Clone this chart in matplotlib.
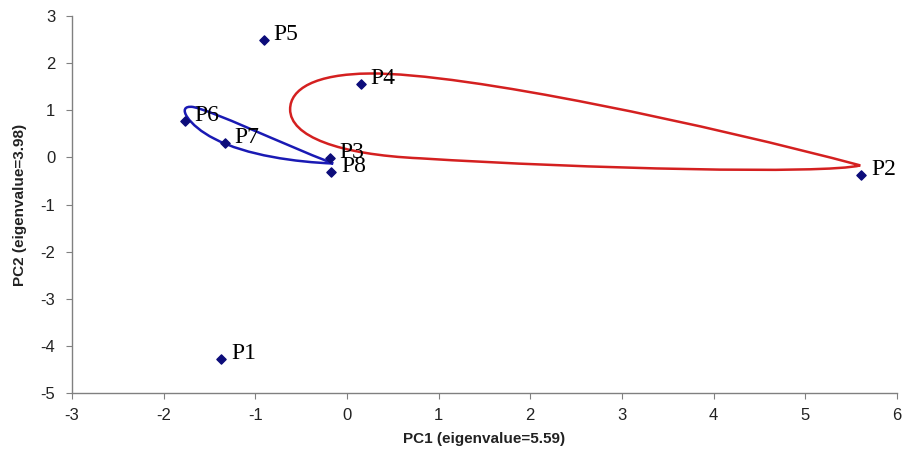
import matplotlib
matplotlib.use('Agg')
import matplotlib.pyplot as plt
from matplotlib.path import Path
from matplotlib.patches import PathPatch

plt.rcParams['axes.unicode_minus'] = False

# --- data ---
labels = ['P1', 'P2', 'P3', 'P4', 'P5', 'P6', 'P7', 'P8']
pc1 = [-1.37, 5.61, -0.19, 0.15, -0.91, -1.77, -1.33, -0.17]
pc2 = [-4.27, -0.37, -0.01, 1.56, 2.50, 0.78, 0.30, -0.31]

xticks = [-3, -2, -1, 0, 1, 2, 3, 4, 5, 6]
yticks = [-5, -4, -3, -2, -1, 0, 1, 2, 3]

# hand drawn loops (bezier vertices, data units)
red_loop = [(5.60, -0.17),
            (4.0, 0.66), (1.3, 1.80), (0.25, 1.78),
            (-0.35, 1.77), (-0.62, 1.45), (-0.62, 1.02),
            (-0.62, 0.45), (-0.1, 0.06), (0.8, -0.02),
            (2.6, -0.24), (5.2, -0.36), (5.60, -0.17)]
blue_loop = [(-0.15, -0.13),
             (-0.75, 0.32), (-1.45, 0.98), (-1.68, 1.07),
             (-1.88, 1.12), (-1.72, 0.66), (-1.45, 0.40),
             (-1.10, 0.04), (-0.55, -0.10), (-0.15, -0.13)]


def loop_patch(pts, color):
    codes = [Path.MOVETO] + [Path.CURVE4] * (len(pts) - 1)
    return PathPatch(Path(pts, codes), facecolor='none', edgecolor=color, lw=1.8, zorder=2)


fig = plt.figure(figsize=(9.04, 4.5), dpi=100)
ax = fig.add_axes([0.0796, 0.1267, 0.9126, 0.8377])

ax.add_patch(loop_patch(red_loop, '#d42020'))
ax.add_patch(loop_patch(blue_loop, '#1a1ab4'))

ax.scatter(pc1, pc2, marker='D', s=22, color='#0c0c7a', zorder=3)
for name, x, y in zip(labels, pc1, pc2):
    ax.annotate(name, (x, y), xytext=(7, 4), textcoords='offset points',
                va='center', ha='left', fontsize=17,
                family='Liberation Serif', color='black', zorder=4)

ax.set_xlim(-3, 6)
ax.set_ylim(-5, 3)
ax.set_xticks(xticks)
ax.set_yticks(yticks)

for s in ['top', 'right']:
    ax.spines[s].set_visible(False)
for s in ['left', 'bottom']:
    ax.spines[s].set_color('#808080')
    ax.spines[s].set_linewidth(1.0)
ax.tick_params(direction='out', length=4, color='#808080', labelsize=12,
               labelcolor='#222222')
for lab in ax.get_xticklabels() + ax.get_yticklabels():
    lab.set_family('Liberation Sans')
ax.tick_params(axis='x', pad=7)
ax.tick_params(axis='y', pad=8)

ax.set_xlabel('PC1 (eigenvalue=5.59)', fontsize=11, fontweight='bold',
              family='Liberation Sans', color='#222222', labelpad=6)
ax.set_ylabel('PC2 (eigenvalue=3.98)', fontsize=11, fontweight='bold',
              family='Liberation Sans', color='#222222', labelpad=10)

fig.savefig('out.png', dpi=100)
